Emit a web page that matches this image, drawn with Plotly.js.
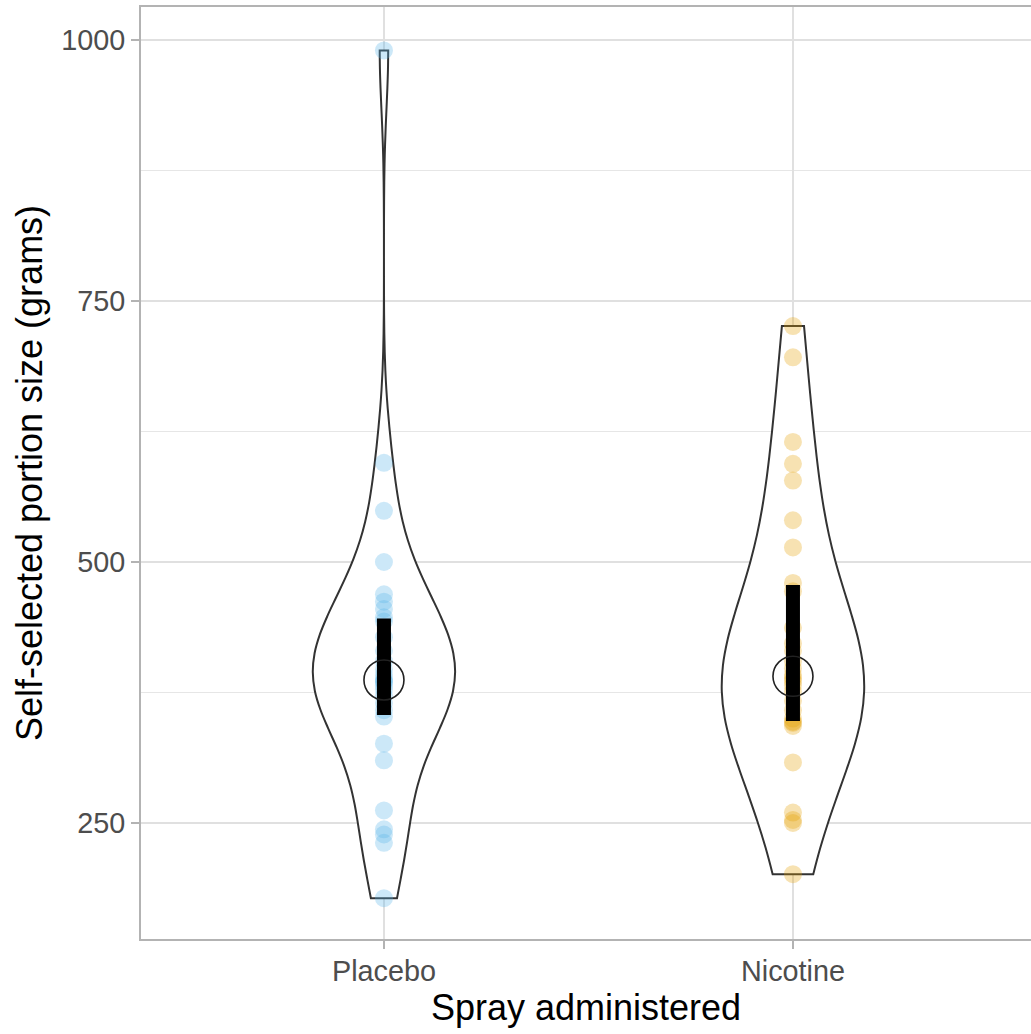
<!DOCTYPE html>
<html><head><meta charset="utf-8">
<script src="https://cdn.plot.ly/plotly-3.0.1.min.js"></script>
<style>html,body{margin:0;padding:0;background:#fff}</style>
</head><body>
<div id="chart" style="width:1031px;height:1034px"></div>
<script>
// ---- data ----
const categories = ['Placebo', 'Nicotine'];
const placebo = [178, 231, 239, 244, 262, 310, 326, 352, 358, 365, 372, 378, 382, 385, 386,
                 388, 392, 397, 405, 415, 428, 443, 447, 455, 462, 469, 500, 549, 595, 990];
const nicotine = [201, 250, 253, 260, 308, 343, 346, 347, 350, 358, 367, 376, 382, 386, 389,
                  392, 398, 405, 415, 422, 437, 472, 480, 514, 540, 578, 594, 615, 696, 726];
const yTickVals = [250, 500, 750, 1000];
const yTickText = ['250', '500', '750', '1000'];
const xTitle = 'Spray administered';
const yTitle = 'Self-selected portion size (grams)';

// ---- styles ----
const pointColors = ['rgba(86,180,233,0.30)', 'rgba(230,159,0,0.30)'];
const bwAdjust = 1.75;

// ---- helpers (R type-7 quantile and bw.nrd0) ----
function quantile7(arr, p) {
  const s = [...arr].sort((a, b) => a - b);
  const h = (s.length - 1) * p;
  const lo = Math.floor(h);
  const hi = Math.min(lo + 1, s.length - 1);
  return s[lo] + (h - lo) * (s[hi] - s[lo]);
}
function bwNrd0(arr) {
  const n = arr.length;
  const m = arr.reduce((a, b) => a + b, 0) / n;
  const sd = Math.sqrt(arr.reduce((a, b) => a + (b - m) * (b - m), 0) / (n - 1));
  const iqr = quantile7(arr, 0.75) - quantile7(arr, 0.25);
  return 0.9 * Math.min(sd, iqr / 1.34) * Math.pow(n, -0.2);
}

const groups = [placebo, nicotine];
const traces = [];

// violins
groups.forEach((arr, i) => {
  traces.push({
    type: 'violin',
    x: arr.map(() => categories[i]),
    y: arr,
    spanmode: 'hard',
    bandwidth: bwNrd0(arr) * bwAdjust,
    scalemode: 'width',
    width: 0.348,
    fillcolor: 'white',
    line: { color: '#333333', width: 2 },
    points: false,
    box: { visible: false },
    meanline: { visible: false },
    hoverinfo: 'skip',
    showlegend: false
  });
});

// points
groups.forEach((arr, i) => {
  traces.push({
    type: 'scatter', mode: 'markers',
    x: arr.map(() => categories[i]),
    y: arr,
    marker: { size: 18, color: pointColors[i], line: { width: 0 } },
    hoverinfo: 'y', showlegend: false
  });
});

// IQR bars
groups.forEach((arr, i) => {
  traces.push({
    type: 'scatter', mode: 'lines',
    x: [categories[i], categories[i]],
    y: [quantile7(arr, 0.25), quantile7(arr, 0.75)],
    line: { color: 'black', width: 14 },
    hoverinfo: 'skip', showlegend: false
  });
});

// median circles
groups.forEach((arr, i) => {
  traces.push({
    type: 'scatter', mode: 'markers',
    x: [categories[i]],
    y: [quantile7(arr, 0.5)],
    marker: { symbol: 'circle-open', size: 40, color: '#222222', line: { width: 1.6, color: '#222222' } },
    hoverinfo: 'y', showlegend: false
  });
});

const layout = {
  width: 1031, height: 1034,
  margin: { l: 141, r: 0, t: 7, b: 95, pad: 0 },
  paper_bgcolor: 'white', plot_bgcolor: 'white',
  font: { family: 'Liberation Sans, Arial, sans-serif', color: '#000' },
  showlegend: false,
  xaxis: {
    type: 'category', categoryorder: 'array', categoryarray: categories,
    range: [-0.594, 1.582],
    showgrid: true, gridcolor: '#E0E0E0', gridwidth: 2,
    showline: true, linecolor: '#B3B3B3', linewidth: 2, mirror: true,
    ticks: 'outside', ticklen: 8, tickwidth: 2, tickcolor: '#B3B3B3',
    ticklabelstandoff: -3,
    tickfont: { size: 28.8, color: '#4D4D4D' },
    title: { text: xTitle, font: { size: 36, color: '#000' }, standoff: 4 },
    zeroline: false, fixedrange: true
  },
  yaxis: {
    range: [138.9, 1031.6],
    tickmode: 'array', tickvals: yTickVals, ticktext: yTickText,
    showgrid: true, gridcolor: '#E0E0E0', gridwidth: 2,
    minor: { tickmode: 'array', tickvals: [375, 625, 875], showgrid: true, gridcolor: '#E6E6E6', gridwidth: 1, ticks: '' },
    showline: true, linecolor: '#B3B3B3', linewidth: 2, mirror: true,
    ticks: 'outside', ticklen: 8, tickwidth: 2, tickcolor: '#B3B3B3',
    tickfont: { size: 28.8, color: '#4D4D4D' },
    title: { text: yTitle, font: { size: 36, color: '#000' }, standoff: 8 },
    zeroline: false, fixedrange: true
  }
};

Plotly.newPlot('chart', traces, layout, { displayModeBar: false, staticPlot: true });
</script>
</body></html>
